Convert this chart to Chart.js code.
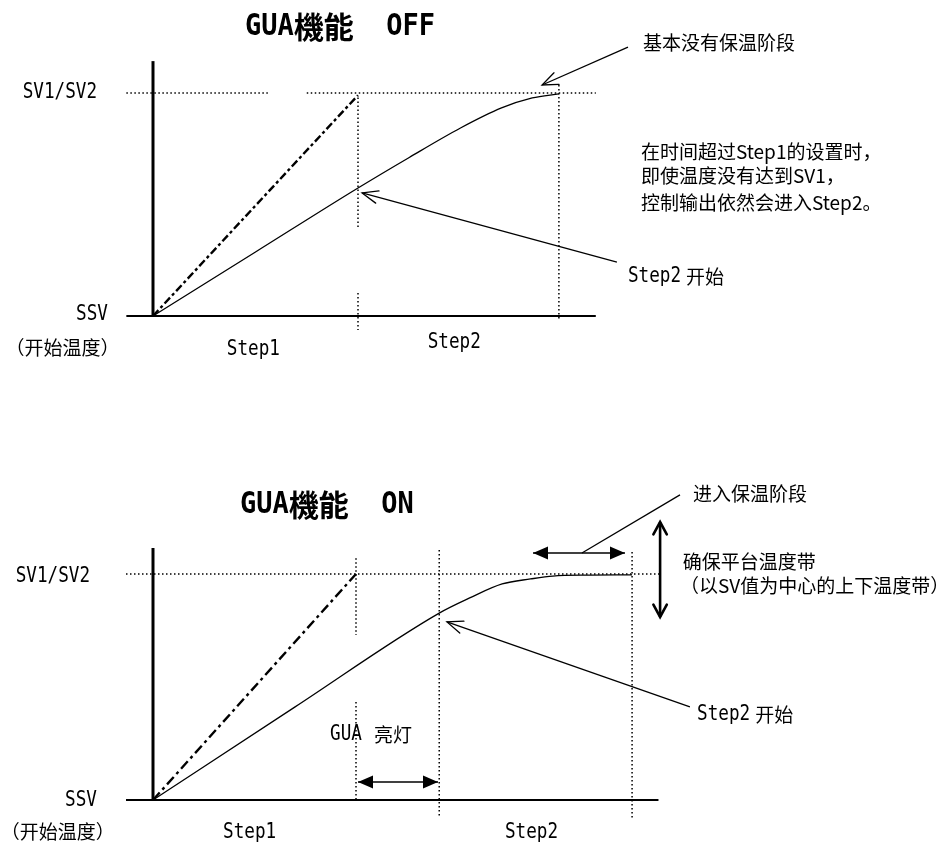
<!DOCTYPE html>
<html>
<head>
<meta charset="utf-8">
<script src="https://cdn.jsdelivr.net/npm/chart.js@4.4.1/dist/chart.umd.min.js"></script>
<style>
  html, body { margin: 0; padding: 0; background: #fff; }
  #wrap { position: relative; width: 947px; height: 843px; }
  canvas { position: absolute; left: 0; }
</style>
</head>
<body>
<div id="wrap">
  <canvas id="off" width="947" height="420" style="top:0"></canvas>
  <canvas id="on" width="947" height="423" style="top:420px"></canvas>
</div>
<script>
// Temperature axis: SSV (start temp) = 0, SV1/SV2 = 100.
// Time axis: the y axis sits at t = 0, Step1 ends at t = 10.
const SSV = 0;
const SV = 100;

// ---- GUA OFF ----
const OFF_STEP1_END = 10;
const OFF_STEP2_END = 19.8;
const offRampT = [0, 10];            // set-point ramp (dashed)
const offRampV = [0, 99];
const offPvT = [0, 5, 10, 12.5, 15, 17, 18.5, 19.8];   // actual temperature
const offPvV = [0, 28.7, 57.4, 71.1, 84.3, 93.3, 97.8, 99.6];
const offSvDots = [[-1.3, 5.6], [7.5, 21.6]];           // dotted SV line pieces (t)
const offStep1Dots = [[98, 39.5], [10.3, -6.3]];        // dotted Step1 boundary pieces (v)
const offStep2Dots = [[103.6, -1.8]];
const offAxisT = [-1.3, 21.6];
const offAxisTop = 114.3;
// arrows: [fromT, fromV, toT, toV]
const offArrowHold = [23.17, 120.6, 18.98, 103.6];
const offArrowStep2 = [22.63, 24.2, 10.2, 55.2];

// ---- GUA ON ----
const ON_STEP1_END = 10;
const ON_GUA_END = 14.1;
const ON_STEP2_END = 23.6;
const onRampT = [0, 10];
const onRampV = [0, 100];
const onPvT = [0, 7, 14.1, 15.6, 17.2, 18.6, 19.7, 21.5, 23.6];
const onPvV = [0, 41.2, 82.7, 89.4, 95.6, 97.8, 99.1, 99.5, 99.6];
const onSvDots = [[-1.33, 25.0]];
const onStep1Dots = [[107, 73], [43.4, -0.9]];
const onGuaDots = [[110.6, -7.5]];
const onStep2Dots = [[109.7, -8]];
const onAxisT = [-1.33, 24.9];
const onAxisTop = 111.5;
const onGuaSpan = [10.1, 14.04, 8];          // GUA lit: t from, t to, at v
const onHoldSpan = [18.72, 23.25, 109.3];    // hold phase: t from, t to, at v
const onHoldLeader = [21.13, 109.3, 25.96, 135];
const onBand = [24.98, 81, 123];             // plateau band: t, v low, v high
const onArrowStep2 = [26.45, 41.2, 14.48, 78.8];

const INK = "#000";

const FONTS = {
  mono: { font: '21px "DejaVu Sans Mono"', sx: 0.84 },
  monoBold: { font: 'bold 31px "DejaVu Sans Mono"', sx: 0.87 },
  cjkBold: { font: 'bold 30px "Noto Sans CJK JP"', sx: 1 },
  cjk: { font: '19px "Noto Sans CJK SC"', sx: 1 },
  cjkSmall: { font: '19px "Noto Sans CJK SC"', sx: 1 },
};

function pts(xs, ys) {
  return xs.map((x, i) => ({ x, y: ys[i] }));
}

function line(data, extra) {
  return Object.assign({
    data, showLine: true, pointRadius: 0, borderColor: INK, backgroundColor: INK,
    borderWidth: 1.3, fill: false, tension: 0,
  }, extra || {});
}

function hDots(pieces, v) {
  return pieces.map(([a, b]) => line(pts([a, b], [v, v]), { borderWidth: 1.5, borderDash: [1.5, 2.5] }));
}
function vDots(pieces, t) {
  return pieces.map(([a, b]) => line(pts([t, t], [a, b]), { borderWidth: 1.5, borderDash: [1.5, 2.5] }));
}
function arrow(a, head, extra) {
  return line(pts([a[0], a[2]], [a[1], a[3]]), Object.assign({ head }, extra || {}));
}

// scale limits so that the whole canvas is the plot area
function frame(w, h, px0, pxPerT, py0, pyPerV) {
  return {
    x: { type: "linear", display: false, min: -px0 / pxPerT, max: (w - px0) / pxPerT },
    y: { type: "linear", display: false, min: (py0 - h) / pyPerV, max: py0 / pyPerV },
  };
}

function drawHead(ctx, from, to, kind, width) {
  const ang = Math.atan2(from.y - to.y, from.x - to.x);
  ctx.save();
  ctx.strokeStyle = INK;
  ctx.fillStyle = INK;
  ctx.setLineDash([]);
  if (kind === "filled") {
    const L = 15, hw = 6.5;
    const bx = to.x + Math.cos(ang) * L, by = to.y + Math.sin(ang) * L;
    ctx.beginPath();
    ctx.moveTo(to.x, to.y);
    ctx.lineTo(bx - Math.sin(ang) * hw, by + Math.cos(ang) * hw);
    ctx.lineTo(bx + Math.sin(ang) * hw, by - Math.cos(ang) * hw);
    ctx.closePath();
    ctx.fill();
  } else {
    const L = kind === "chevron" ? 14 : 17;
    const th = kind === "chevron" ? 0.5 : 0.38;
    ctx.lineWidth = width;
    ctx.lineCap = "round";
    ctx.beginPath();
    ctx.moveTo(to.x + Math.cos(ang + th) * L, to.y + Math.sin(ang + th) * L);
    ctx.lineTo(to.x, to.y);
    ctx.lineTo(to.x + Math.cos(ang - th) * L, to.y + Math.sin(ang - th) * L);
    ctx.stroke();
  }
  ctx.restore();
}

// a run is [text, fontKey] or a number (a gap in px)
function runWidth(ctx, runs) {
  let w = 0;
  for (const r of runs) {
    if (typeof r === "number") { w += r; continue; }
    ctx.font = FONTS[r[1]].font;
    w += ctx.measureText(r[0]).width * FONTS[r[1]].sx;
  }
  return w;
}

function makeAnnotator(labels) {
  return {
    id: "annotate",
    afterDatasetsDraw(chart) {
      const { ctx, scales: { x, y } } = chart;
      const px = (p) => ({ x: x.getPixelForValue(p.x), y: y.getPixelForValue(p.y) });
      chart.data.datasets.forEach((ds) => {
        if (!ds.head) return;
        const d = ds.data;
        const kind = ds.head.replace("both-", "");
        drawHead(ctx, px(d[d.length - 2]), px(d[d.length - 1]), kind, ds.borderWidth);
        if (ds.head.startsWith("both-")) drawHead(ctx, px(d[1]), px(d[0]), kind, ds.borderWidth);
      });
      ctx.save();
      ctx.fillStyle = INK;
      ctx.textBaseline = "middle";
      ctx.textAlign = "left";
      for (const lab of labels) {
        let cx = x.getPixelForValue(lab.t);
        const cy = y.getPixelForValue(lab.v);
        if (lab.align === "right") cx -= runWidth(ctx, lab.runs);
        for (const r of lab.runs) {
          if (typeof r === "number") { cx += r; continue; }
          const f = FONTS[r[1]];
          ctx.font = f.font;
          ctx.save();
          ctx.translate(cx, cy);
          ctx.scale(f.sx, 1);
          ctx.fillText(r[0], 0, 0);
          ctx.restore();
          cx += ctx.measureText(r[0]).width * f.sx;
        }
      }
      ctx.restore();
    },
  };
}

function build(canvas, datasets, scales, labels) {
  return new Chart(canvas, {
    type: "scatter",
    data: { datasets },
    options: {
      responsive: false,
      animation: false,
      devicePixelRatio: 1,
      events: [],
      layout: { padding: 0 },
      plugins: { legend: { display: false }, tooltip: { enabled: false } },
      scales,
    },
    plugins: [makeAnnotator(labels)],
  });
}

// ---------- GUA OFF chart ----------
build(document.getElementById("off"), [
  line(pts([0, 0], [SSV, offAxisTop]), { borderWidth: 3 }),
  line(pts(offAxisT, [SSV, SSV]), { borderWidth: 2 }),
  ...hDots(offSvDots, SV),
  ...vDots(offStep1Dots, OFF_STEP1_END),
  ...vDots(offStep2Dots, OFF_STEP2_END),
  line(pts(offRampT, offRampV), { borderWidth: 2.4, borderDash: [8, 3, 3, 3] }),
  line(pts(offPvT, offPvV), { cubicInterpolationMode: "monotone" }),
  arrow(offArrowHold, "open"),
  arrow(offArrowStep2, "open"),
], frame(947, 420, 153, 20.5, 316, 2.23), [
  { t: 4.49, v: 129.6, runs: [["GUA", "monoBold"], ["機能", "cjkBold"], ["  OFF", "monoBold"]] },
  { t: -2.73, v: 100, align: "right", runs: [["SV1/SV2", "mono"]] },
  { t: -2.2, v: 0.5, align: "right", runs: [["SSV", "mono"]] },
  { t: -7.2, v: -14.3, runs: [["（开始温度）", "cjkSmall"]] },
  { t: 3.6, v: -15.2, runs: [["Step1", "mono"]] },
  { t: 13.4, v: -12.1, runs: [["Step2", "mono"]] },
  { t: 23.9, v: 122.4, runs: [["基本没有保温阶段", "cjk"]] },
  { t: 23.8, v: 73.5, runs: [["在时间超过Step1的设置时，", "cjk"]] },
  { t: 23.8, v: 62.8, runs: [["即使温度没有达到SV1，", "cjk"]] },
  { t: 23.8, v: 50.7, runs: [["控制输出依然会进入Step2。", "cjk"]] },
  { t: 23.17, v: 17.5, runs: [["Step2", "mono"], 5, ["开始", "cjk"]] },
]);

// ---------- GUA ON chart ----------
build(document.getElementById("on"), [
  line(pts([0, 0], [SSV, onAxisTop]), { borderWidth: 3 }),
  line(pts(onAxisT, [SSV, SSV]), { borderWidth: 2 }),
  ...hDots(onSvDots, SV),
  ...vDots(onStep1Dots, ON_STEP1_END),
  ...vDots(onGuaDots, ON_GUA_END),
  ...vDots(onStep2Dots, ON_STEP2_END),
  line(pts(onRampT, onRampV), { borderWidth: 2.4, borderDash: [10, 4, 3, 4] }),
  line(pts(onPvT, onPvV), { cubicInterpolationMode: "monotone" }),
  line(pts([onGuaSpan[0], onGuaSpan[1]], [onGuaSpan[2], onGuaSpan[2]]), { borderWidth: 1.5, head: "both-filled" }),
  line(pts([onHoldSpan[0], onHoldSpan[1]], [onHoldSpan[2], onHoldSpan[2]]), { borderWidth: 1.5, head: "both-filled" }),
  arrow(onHoldLeader, null),
  line(pts([onBand[0], onBand[0]], [onBand[1], onBand[2]]), { borderWidth: 2.6, head: "both-chevron" }),
  arrow(onArrowStep2, "open"),
], frame(947, 423, 153, 20.3, 380, 2.26), [
  { t: 4.29, v: 130.5, runs: [["GUA", "monoBold"], ["機能", "cjkBold"], ["  ON", "monoBold"]] },
  { t: -3.1, v: 99, align: "right", runs: [["SV1/SV2", "mono"]] },
  { t: -2.76, v: -0.4, align: "right", runs: [["SSV", "mono"]] },
  { t: -7.5, v: -14.2, runs: [["（开始温度）", "cjkSmall"]] },
  { t: 3.45, v: -14.6, runs: [["Step1", "mono"]] },
  { t: 17.34, v: -14.6, runs: [["Step2", "mono"]] },
  { t: 8.72, v: 28.8, runs: [["GUA", "mono"], 12, ["亮灯", "cjk"]] },
  { t: 26.6, v: 135.4, runs: [["进入保温阶段", "cjk"]] },
  { t: 26.1, v: 105.3, runs: [["确保平台温度带", "cjk"]] },
  { t: 25.96, v: 94.7, runs: [["（以SV值为中心的上下温度带）", "cjk"]] },
  { t: 26.8, v: 37.6, runs: [["Step2", "mono"], 5, ["开始", "cjk"]] },
]);
</script>
</body>
</html>
